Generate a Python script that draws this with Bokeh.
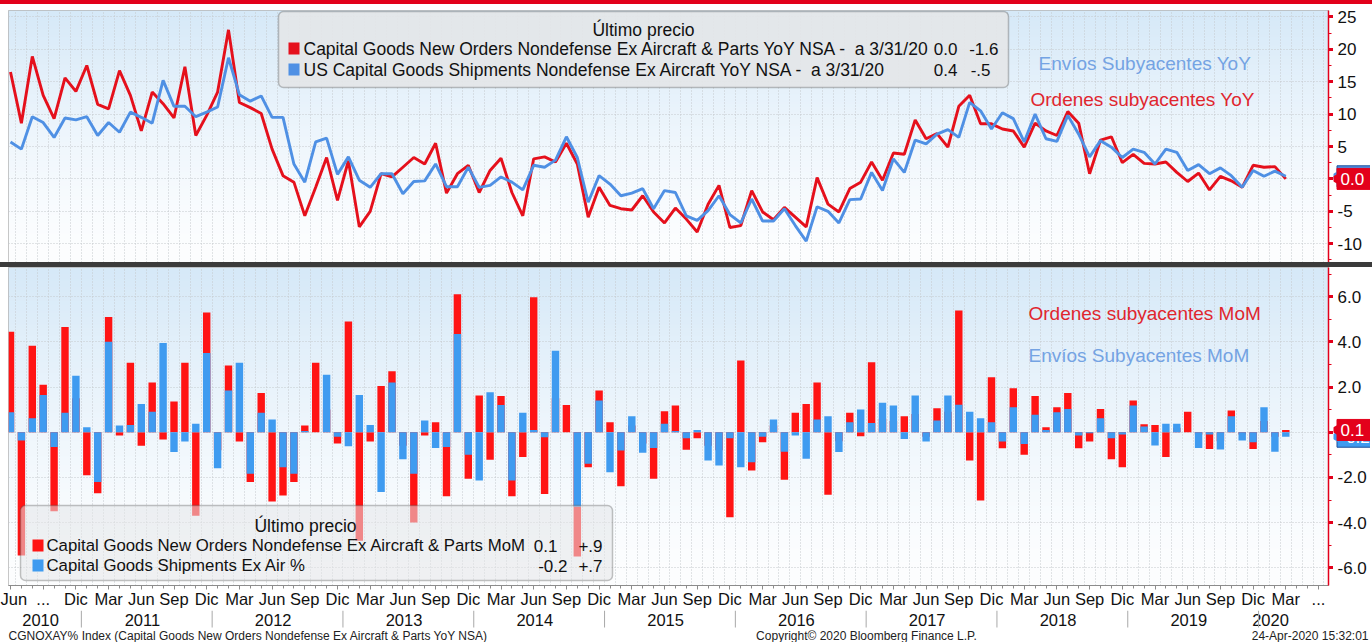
import numpy as np
import pandas as pd
from bokeh.plotting import figure
from bokeh.models import (Range1d, FixedTicker, BoxAnnotation, Label, Div,
                          ColumnDataSource)
from bokeh.layouts import column, row
from bokeh.embed import file_html
from bokeh.resources import INLINE
from bokeh.core.properties import value

# ---------------- data ----------------
months = pd.period_range("2010-06", "2020-03", freq="M")

orders_yoy = [16.5, 8.6, 18.9, 12.9, 9.3, 15.6, 13.5, 17.5, 11.5, 10.8,
              16.7, 12.9, 7.4, 13.4, 11.6, 9.4, 17.3, 6.7, 9.8, 13.4,
              23.0, 11.8, 11.0, 10.1, 4.6, 0.5, -0.5, -5.7, -1.3, 3.3,
              -3.3, 2.8, -7.4, -5.0, 0.8, 0.3, 1.8, 3.3, 2.3, 5.5,
              -2.2, 0.8, 2.1, -2.1, 1.3, 3.2, -2.1, -5.7, 3.1, 3.4,
              2.6, 5.5, 2.3, -5.9, -1.3, -4.1, -4.6, -4.8, -2.6, -5.1,
              -6.8, -4.5, -6.2, -8.2, -3.9, -1.0, -7.5, -7.2, -1.8, -5.1,
              -6.3, -4.4, -5.9, -7.4, 0.2, -3.9, -5.1, -1.5, -0.5, 2.6,
              -0.2, 4.0, 3.8, 9.1, 6.2, 7.0, 4.9, 11.2, 12.9, 8.5,
              8.5, 7.7, 7.4, 4.9, 8.6, 7.4, 6.7, 10.4, 8.6, 0.8,
              6.0, 6.5, 2.5, 3.8, 2.4, 2.3, 2.6, 1.0, -0.4, 0.9,
              -1.7, 0.4, -0.3, -1.3, 2.1, 1.8, 1.9, 0.0]

shipments_yoy = [5.7, 4.6, 9.6, 8.7, 6.4, 9.4, 9.1, 9.6, 6.7, 8.7,
                 7.2, 10.3, 9.5, 8.6, 15.2, 11.2, 11.2, 9.6, 10.3, 11.1,
                 18.7, 13.0, 12.0, 12.8, 9.5, 9.5, 2.3, -0.5, 5.7, 6.3,
                 0.7, 3.4, -0.2, -1.3, 0.8, 0.8, -2.3, -0.4, -0.3, 2.3,
                 -1.2, -1.2, 1.8, -1.3, -1.0, 0.3, -0.5, -1.7, 2.1, 1.8,
                 2.9, 6.5, 3.3, -3.6, 0.5, -0.8, -2.6, -2.2, -1.5, -4.6,
                 -1.8, -2.1, -5.7, -6.4, -4.9, -2.6, -5.5, -6.8, -3.1, -6.5,
                 -6.5, -4.6, -7.2, -9.6, -4.3, -5.0, -6.8, -3.2, -3.1, 1.0,
                 -1.8, 3.1, 1.0, 6.0, 5.4, 6.9, 7.6, 6.4, 11.8, 10.5,
                 7.7, 10.2, 9.3, 5.7, 10.0, 6.2, 5.8, 9.8, 6.9, 3.4,
                 5.9, 4.9, 3.3, 4.6, 4.1, 2.3, 4.6, 4.1, 1.3, 2.2,
                 0.8, 1.7, 0.5, -1.3, 1.3, 0.4, 1.2, 0.4]

orders_mom = [4.45, -5.46, 3.83, 2.1, -3.5, 4.65, 1.5, -1.9, -2.7, 5.1,
              -0.15, 3.07, -0.6, 2.2, -0.32, 1.36, 3.07, -3.7, 5.3, -0.8,
              2.95, -0.41, -2.2, 1.73, -3.07, -2.8, -2.2, 0.3, 3.07, 1.0,
              -0.5, 4.9, -4.8, -0.41, 2.04, 2.7, -0.6, -4.0, -0.15, 0.44,
              -2.83, 6.1, -2.06, 1.62, -1.22, 1.6, -2.83, -1.1, 5.97, -2.73,
              1.5, 1.2, -5.5, -1.55, 1.84, 0.44, -2.39, 0.3, -0.5, -2.06,
              0.93, 1.18, -0.78, -0.27, -0.6, -0.8, -3.76, 3.17, -1.7, -0.45,
              0.3, -2.1, 0.86, 1.25, 2.2, -2.77, -0.4, 0.86, -0.18, 3.1,
              0.6, 0.5, 0.71, 0.8, -0.2, 1.06, 0.9, 5.38, -1.25, -3.02,
              2.43, -0.71, 1.95, -1.0, 1.6, 0.22, 1.1, 1.74, -0.71, -0.41,
              1.03, -1.2, -1.55, 1.4, 0.35, 0.32, -1.1, 0.2, 0.91, -0.1,
              -0.74, -0.4, 0.96, -0.1, -0.74, 0.5, -0.2, 0.1]

shipments_mom = [0.88, -0.37, 0.62, 1.65, -0.66, 0.86, 2.5, 0.22, -2.2, 4.0,
                 0.3, 0.32, 1.25, 0.9, 3.95, -0.88, -0.41, 0.37, 3.5, -1.6,
                 1.84, 3.07, -1.84, 0.86, 0.56, -1.55, -1.84, 0.05, 0.0, 2.54,
                 -0.2, -0.62, 1.65, 0.32, -2.65, 2.2, -1.2, -1.84, 0.52, -0.7,
                 -0.66, 4.35, -1.0, -2.14, 1.77, 1.2, -2.14, 0.86, 0.1, -0.22,
                 3.6, 0.0, -3.3, -1.4, 1.4, -1.77, -0.81, 0.71, -0.91, -0.7,
                 0.37, 0.05, -0.27, 0.1, -1.25, -1.47, -0.27, -1.55, -1.33, -0.2,
                 0.56, -0.86, -0.15, -1.18, 0.56, 0.71, -0.88, 0.44, 1.0, 0.41,
                 1.3, 1.18, -0.3, 1.62, -0.41, 0.52, 1.62, 1.21, 0.91, 0.62,
                 0.44, -0.41, 1.1, -0.52, 0.77, 0.1, 0.88, 1.03, -0.15, -0.05,
                 0.62, -0.27, -0.1, 1.18, 0.25, -0.59, 0.37, 0.37, 0.0, -0.7,
                 -0.1, -0.77, 0.71, -0.37, -0.44, 1.1, -0.86, -0.2]

yoy_ticks = [-10, -5, 0, 5, 10, 15, 20, 25]
mom_ticks = [-6, -4, -2, 0, 2, 4, 6]
month_names = {3: "Mar", 6: "Jun", 9: "Sep", 12: "Dic"}

NB = "\u00a0"
yoy_names = ["Capital Goods New Orders Nondefense Ex Aircraft & Parts YoY NSA -" + NB + NB + "a 3/31/20",
             "US Capital Goods Shipments Nondefense Ex Aircraft YoY NSA -" + NB + NB + "a 3/31/20"]
yoy_last = ["0.0", "0.4"]
yoy_chg = ["-1.6", "-.5"]
mom_names = ["Capital Goods New Orders Nondefense Ex Aircraft & Parts MoM",
             "Capital Goods Shipments Ex Air %"]
mom_last = ["0.1", "-0.2"]
mom_chg = ["+.9", "+.7"]

assert len(orders_yoy) == len(shipments_yoy) == len(orders_mom) == len(shipments_mom) == len(months)

# ---------------- style / layout helpers ----------------
FONT = "Liberation Sans"
RED_LINE = "#e5101c"
BLUE_LINE = "#4f90e4"
RED_BAR = "#ff1414"
BLUE_BAR = "#3f9bf0"
RED_TXT = "#e0262e"
BLUE_TXT = "#74a3e3"
AX_RED = "#e3001b"
TOTAL_W = 1372
LEFT = 8
FW = 1320           # frame width (x from 8 to 1328)
LABEL_W = 37        # width of the right-hand label column
PPM = 10.9          # pixels per month


def XD(px):   # horizontal layout pixel -> month index
    return (px - 10) / PPM


def YT(py):   # vertical layout pixel -> YoY value
    return (178.4 - py) / 6.48


def YB(py):   # vertical layout pixel -> MoM value
    return (431.7 - py) / 22.6


x = np.arange(len(months))
src = ColumnDataSource(dict(x=x, oy=orders_yoy, sy=shipments_yoy,
                            om=orders_mom, sm=shipments_mom))


def gradient(h=200, top=(214, 233, 248), bot=(253, 254, 255)):
    img = np.zeros((h, 2), dtype=np.uint32)
    v = img.view(dtype=np.uint8).reshape((h, 2, 4))
    t = np.linspace(0, 1, h) ** 1.4
    for k in range(3):
        v[:, :, k] = (bot[k] + (top[k] - bot[k]) * t)[:, None].astype(np.uint8)
    v[:, :, 3] = 255
    return img


def plain_fig(w, h, color, **kw):
    p = figure(frame_width=w, frame_height=h, x_axis_location=None, y_axis_location=None,
               output_backend="svg", toolbar_location=None,
               min_border_left=0, min_border_right=0, min_border_top=0, min_border_bottom=0,
               background_fill_color=color, border_fill_color=color,
               outline_line_color=None, **kw)
    p.grid.visible = False
    return p


def base_fig(frame_h, yr, xaxis, top_border):
    p = figure(frame_width=FW, frame_height=frame_h,
               x_range=Range1d(XD(LEFT), XD(LEFT + FW)), y_range=yr,
               y_axis_location="right", x_axis_location="below" if xaxis else None,
               output_backend="svg", toolbar_location=None,
               min_border_left=LEFT, min_border_right=0, min_border_top=top_border,
               min_border_bottom=0,
               background_fill_color="white", border_fill_color="white",
               outline_line_color="#b5b5b5")
    p.image_rgba(image=[gradient()], x=p.x_range.start, y=yr.start,
                 dw=p.x_range.end - p.x_range.start, dh=yr.end - yr.start, level="image")
    p.xgrid.ticker = FixedTicker(ticks=[i + 0.5 for i in range(-1, len(months) + 3)])
    p.xgrid.grid_line_color = "#c4c8cd"
    p.xgrid.grid_line_dash = "1 2"
    p.ygrid.grid_line_color = "#c4c8cd"
    p.ygrid.grid_line_dash = "1 2"
    ax = p.yaxis[0]
    ax.axis_line_color = AX_RED
    ax.axis_line_width = 1.5
    ax.major_tick_line_color = AX_RED
    ax.major_tick_line_width = 3
    ax.minor_tick_line_color = AX_RED
    ax.major_tick_in = 0
    ax.major_tick_out = 5
    ax.minor_tick_in = 0
    ax.minor_tick_out = 3
    ax.major_label_standoff = 0
    return p


def label_col(p, ticks, fmt, tags, top_border):
    """Right-hand column holding the tick labels and last-value tags, sharing the y scale."""
    t = plain_fig(LABEL_W, p.frame_height, "white",
                  x_range=Range1d(0, LABEL_W), y_range=p.y_range)
    t.min_border_top = top_border
    shown = [v for v in ticks if v != 0]
    t.text(x=[4] * len(shown), y=shown, text=[fmt(v) for v in shown],
           text_font=value(FONT), text_font_size="17px", text_align="left",
           text_baseline="middle", text_color="#111111")
    for val, txt, col, edge in tags:
        t.rect(x=[LABEL_W / 2 + 2], y=[val], width=[LABEL_W - 3], height=[21],
               height_units="screen", fill_color=col, line_color=edge, line_width=1)
        t.scatter(x=[4], y=[val], marker="triangle", angle=np.pi / 2, size=15,
                  fill_color=col, line_color=None)
        t.text(x=[7], y=[val], text=[txt], text_font=value(FONT), text_font_size="17px",
               text_align="left", text_baseline="middle", text_color="white")
    return t


def lbl(p, xx, yy, text, color="#111111", size="17.5px", align="left"):
    p.add_layout(Label(x=xx, y=yy, text=text, text_color=color, text_font=FONT,
                       text_font_size=size, text_align=align, text_baseline="middle"))


def legend_box(p, l, r, b, t, alpha):
    p.add_layout(BoxAnnotation(left=l, right=r, bottom=b, top=t,
                               fill_color="#e4e6e8", fill_alpha=alpha,
                               line_color="#3a3a3a", line_width=1.5,
                               border_radius=5))


def square(p, l, r, b, t, color):
    p.add_layout(BoxAnnotation(left=l, right=r, bottom=b, top=t, fill_color=color,
                               fill_alpha=1, line_color=None))


# ---------------- top panel (YoY lines) ----------------
p1 = base_fig(252, Range1d(YT(262), YT(10)), xaxis=False, top_border=6)
p1.yaxis.ticker = FixedTicker(ticks=yoy_ticks,
                              minor_ticks=[t + 2.5 for t in range(-15, 26, 5)])
p1.yaxis.major_label_overrides = {t: "" for t in yoy_ticks}
p1.ygrid.ticker = FixedTicker(ticks=yoy_ticks)

p1.line("x", "oy", source=src, line_color=RED_LINE, line_width=2.9)
p1.line("x", "sy", source=src, line_color=BLUE_LINE, line_width=2.9)

legend_box(p1, XD(278), XD(1008), YT(87), YT(11), 0.92)
lbl(p1, XD(643), YT(29), "Último precio", align="center")
for k, (nm, lv, ch, col, rx) in enumerate(zip(yoy_names, yoy_last, yoy_chg,
                                              [RED_LINE, BLUE_LINE], [998, 990])):
    yc = 48 + 21 * k
    square(p1, XD(288), XD(299), YT(yc + 6), YT(yc - 6), col)
    lbl(p1, XD(303), YT(yc), nm)
    lbl(p1, XD(957), YT(yc), lv, align="right", size="17px")
    lbl(p1, XD(rx), YT(yc), ch, align="right", size="17px")

lbl(p1, XD(1038), YT(63), "Envíos Subyacentes YoY", color=BLUE_TXT, size="19px")
lbl(p1, XD(1030), YT(99), "Ordenes subyacentes YoY", color=RED_TXT, size="19px")

t1 = label_col(p1, yoy_ticks, lambda v: str(v),
               [(shipments_yoy[-1], yoy_last[1], BLUE_LINE, "#1f4f9a"),
                (orders_yoy[-1], yoy_last[0], AX_RED, AX_RED)], top_border=6)

# ---------------- bottom panel (MoM bars) ----------------
p2 = base_fig(318, Range1d(YB(585), YB(267)), xaxis=True, top_border=0)
p2.yaxis.ticker = FixedTicker(ticks=mom_ticks, minor_ticks=[-7, -5, -3, -1, 1, 3, 5, 7])
p2.yaxis.major_label_overrides = {t: "" for t in mom_ticks}
p2.ygrid.ticker = FixedTicker(ticks=mom_ticks)

p2.vbar(x="x", top="om", bottom=0, width=0.68, source=src,
        fill_color=RED_BAR, line_color=None)
p2.vbar(x="x", top="sm", bottom=0, width=0.68, source=src,
        fill_color=BLUE_BAR, line_color=None)

# month axis
n = len(months)
major = list(range(0, n + 3, 3))
overrides = {}
for i in major:
    if i < n:
        overrides[i] = month_names[months[i].month]
overrides[3] = "..."
overrides[major[-1]] = "..."
xa = p2.xaxis[0]
xa.ticker = FixedTicker(ticks=major, minor_ticks=list(range(0, n + 3)))
xa.major_label_overrides = overrides
xa.axis_line_color = "#8c8c8c"
xa.major_tick_line_color = "#8c8c8c"
xa.minor_tick_line_color = "#8c8c8c"
xa.major_tick_in = 0
xa.major_tick_out = 4
xa.minor_tick_in = 0
xa.minor_tick_out = 3
xa.major_label_standoff = 0
xa.major_label_text_font = FONT
xa.major_label_text_font_size = "16.5px"
xa.major_label_text_color = "#111111"

legend_box(p2, XD(20), XD(612), YB(580), YB(505), 0.55)
lbl(p2, XD(305), YB(525), "Último precio", align="center")
for k, (nm, lv, ch, col, rx) in enumerate(zip(mom_names, mom_last, mom_chg,
                                              [RED_BAR, BLUE_BAR], [557, 567])):
    yc = 545 + 20 * k
    square(p2, XD(32), XD(43), YB(yc + 6), YB(yc - 6), col)
    lbl(p2, XD(46), YB(yc), nm, size="16.8px")
    lbl(p2, XD(rx), YB(yc), lv, align="right", size="17px")
    lbl(p2, XD(602), YB(yc), ch, align="right", size="17px")

lbl(p2, XD(1028), YB(313), "Ordenes subyacentes MoM", color=RED_TXT, size="19px")
lbl(p2, XD(1028), YB(355), "Envíos Subyacentes MoM", color=BLUE_TXT, size="19px")

t2 = label_col(p2, mom_ticks, lambda v: f"{v:.1f}",
               [(shipments_mom[-1], mom_last[1], BLUE_BAR, "#1f4f9a"),
                (orders_mom[-1], mom_last[0], AX_RED, AX_RED)], top_border=0)

# ---------------- year row + footer ----------------
H3 = 32
p3 = plain_fig(TOTAL_W, H3, "white",
               x_range=Range1d(XD(0), XD(TOTAL_W)), y_range=Range1d(0, H3))

x_lo, x_hi = XD(LEFT), XD(LEFT + FW)
years = sorted(set(m.year for m in months))
ycent, ylab = [], []
for yv in years:
    idx = [i for i, m in enumerate(months) if m.year == yv]
    lo = max(idx[0] - 0.5, x_lo)
    hi = min(idx[-1] + 0.5, x_hi)
    ycent.append((lo + hi) / 2 - 0.4)
    ylab.append(str(yv))
p3.text(x=ycent, y=[H3 - 9] * len(ycent), text=ylab, text_font=value(FONT),
        text_font_size="16.5px", text_align="center", text_baseline="middle",
        text_color="#111111")
bounds = [i - 0.5 for i, m in enumerate(months) if m.month == 1]
p3.segment(x0=bounds, y0=[15] * len(bounds), x1=bounds, y1=[H3] * len(bounds),
           line_color="#a8a8a8", line_width=1)

foot = dict(text_font=value(FONT), text_font_size="12px", text_baseline="middle",
            text_color="#222222")
p3.text(x=[XD(8)], y=[7], text=["CGNOXAY% Index (Capital Goods New Orders Nondefense Ex Aircraft & Parts YoY NSA)"],
        text_align="left", **foot)
p3.text(x=[XD(866)], y=[7], text=["Copyright© 2020 Bloomberg Finance L.P."],
        text_align="center", **foot)
p3.text(x=[XD(TOTAL_W - 4)], y=[7], text=["24-Apr-2020 15:32:01"],
        text_align="right", **foot)

# ---------------- assemble ----------------
stripe = Div(text="", width=TOTAL_W, height=4, margin=(0, 0, 0, 0),
             styles={"background-color": "#e2001a", "overflow": "hidden"})
sep = Div(text="", width=TOTAL_W, height=5, margin=(0, 0, 0, 0),
          styles={"background-color": "#3b3b3b", "overflow": "hidden"})

layout = column(stripe, row(p1, t1, spacing=0), sep, row(p2, t2, spacing=0), p3, spacing=0)
open("out.html", "w").write(file_html(layout, INLINE))
